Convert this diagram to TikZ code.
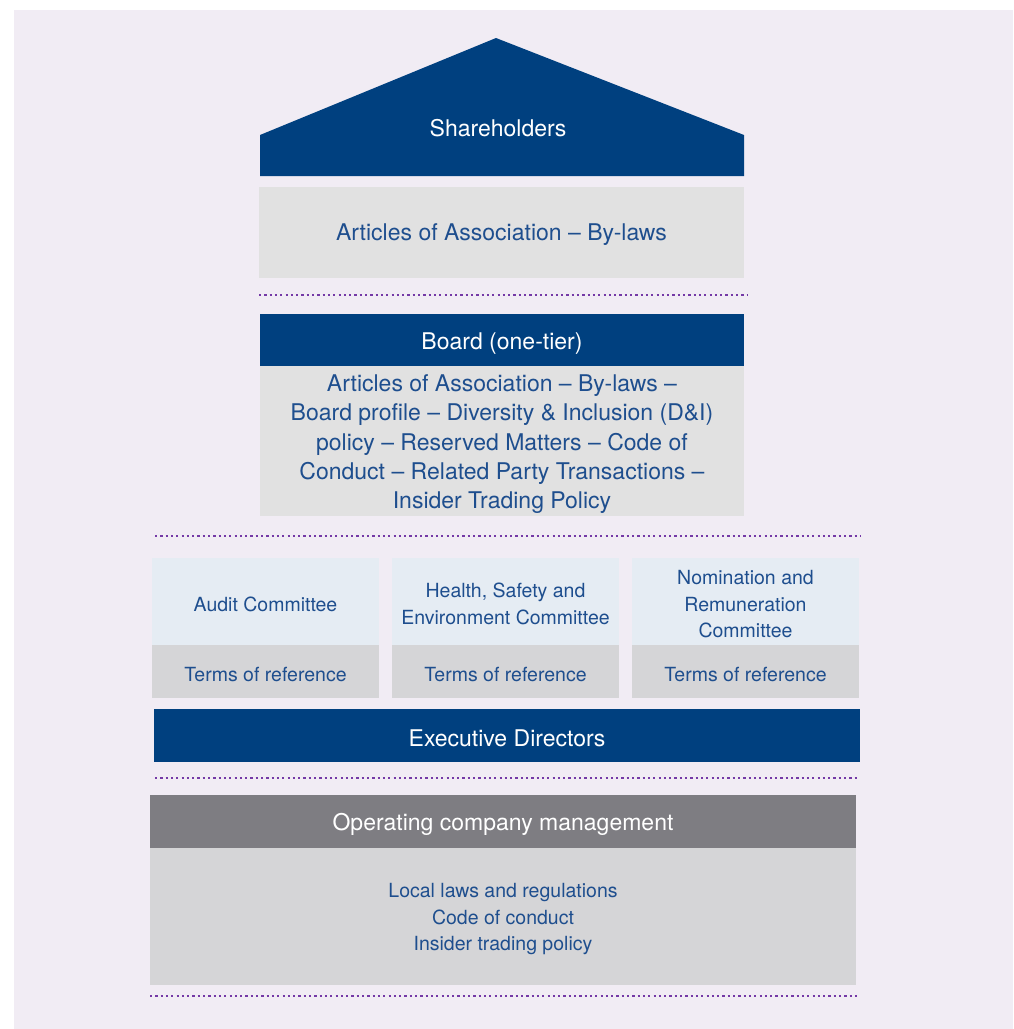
\documentclass[tikz,border=0pt]{standalone}
\usepackage{fontspec}
\setmainfont{TeX Gyre Heros}
\usetikzlibrary{positioning}
\definecolor{navy}{HTML}{00407F}
\definecolor{lav}{HTML}{F1ECF4}
\definecolor{boxgrey}{HTML}{E1E1E1}
\definecolor{torgrey}{HTML}{D5D5D7}
\definecolor{comblue}{HTML}{E5ECF3}
\definecolor{opgrey}{HTML}{7E7D82}
\definecolor{txtblue}{HTML}{1E4E8E}
\definecolor{dotpurple}{HTML}{7439A6}
\newcommand{\bigtxt}{\fontsize{23}{29.3}\selectfont}
\newcommand{\smalltxt}{\fontsize{19.5}{26.5}\selectfont}
\newcommand{\lift}{\rule{0pt}{1em}}
\tikzset{
    box/.style={inner sep=0pt,outer sep=0pt,align=center},
    hdr/.style={box,fill=navy,text=white,font=\bigtxt,minimum height=53pt},
    greybox/.style={box,fill=boxgrey,text=txtblue,font=\bigtxt},
    combox/.style={box,fill=comblue,text=txtblue,font=\smalltxt,minimum width=227pt,minimum height=87pt},
    torbox/.style={box,fill=torgrey,text=txtblue,font=\smalltxt,minimum width=227pt,minimum height=53pt},
    sepline/.style={draw=dotpurple,line width=2.2pt,dash pattern=on 2.2pt off 3.1pt},
}
\begin{document}
\begin{tikzpicture}[x=1pt,y=-1pt]
    \useasboundingbox (0,0) rectangle (1013,1029);
    \fill[lav] (14,10) rectangle (1013,1029);
    % roof
    \fill[navy] (260,135) -- (496,38) -- (744,135) -- (744,176) -- (260,176) -- cycle;
    \node[box,text=white,font=\bigtxt] (share) at (498,128) {Shareholders};
    \node[greybox,minimum width=485pt,minimum height=91pt] (art) at (501.5,232) {\lift Articles of Association -- By-laws};
    \draw[sepline] (259,295) -- (747,295);
    % board
    \node[hdr,minimum width=484pt,minimum height=52pt] (board) at (502,340) {\lift Board (one-tier)};
    \node[greybox,minimum width=484pt,minimum height=150pt,below=0pt of board] (boardbody)
        {\lift Articles of Association -- By-laws --\\Board profile -- Diversity \& Inclusion (D\&I)\\policy -- Reserved Matters -- Code of\\Conduct -- Related Party Transactions --\\Insider Trading Policy};
    \draw[sepline] (155,536) -- (860,536);
    % committees
    \node[combox] (audit) at (265.5,601.5) {\lift Audit Committee};
    \node[combox] (hse) at (505.5,601.5) {\lift Health, Safety and\\Environment Committee};
    \node[combox] (nomrem) at (745.5,601.5) {\lift Nomination and\\Remuneration\\Committee};
    \foreach \c in {audit,hse,nomrem}
        \node[torbox,below=0pt of \c] (\c-tor) {\lift Terms of reference};
    \node[hdr,minimum width=706pt] (exec) at (507,735.5) {\lift Executive Directors};
    \draw[sepline] (155,778) -- (859,778);
    % operating companies
    \node[hdr,fill=opgrey,minimum width=706pt] (opco) at (503,821.5) {\lift Operating company management};
    \node[box,fill=torgrey,text=txtblue,font=\smalltxt,minimum width=706pt,minimum height=137pt,below=0pt of opco] (opbody)
        {\lift Local laws and regulations\\Code of conduct\\Insider trading policy};
    \draw[sepline] (150,996) -- (858,996);
\end{tikzpicture}
\end{document}
